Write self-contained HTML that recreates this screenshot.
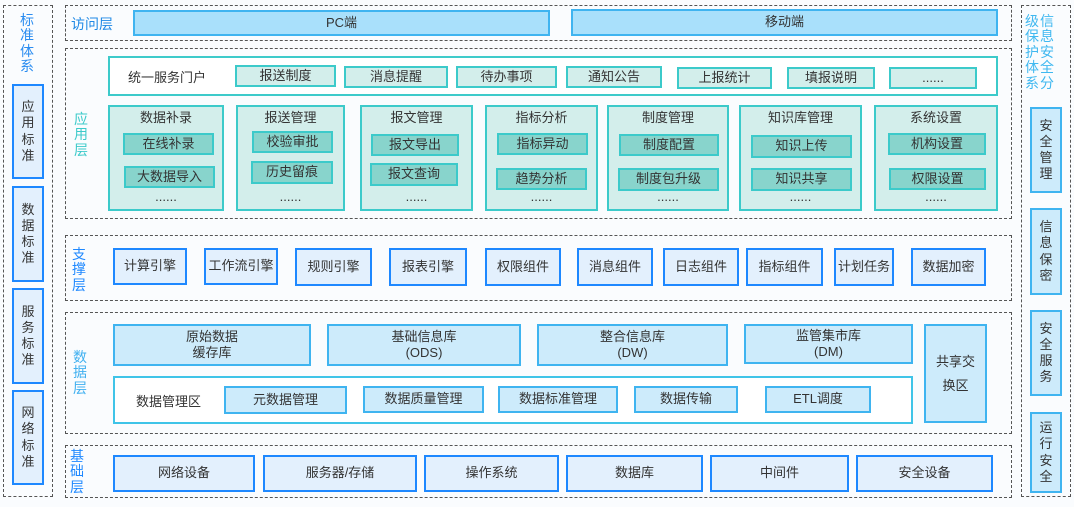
<!DOCTYPE html>
<html><head><meta charset="utf-8"><style>
*{margin:0;padding:0;box-sizing:border-box}
body{width:1074px;height:507px;position:relative;overflow:hidden;background:#fafcfe;font-family:"Liberation Sans","Noto Sans CJK SC",sans-serif;color:#333;font-size:13px}
div{position:absolute}
.d{border:1px dashed #555}
.b{display:flex;align-items:center;justify-content:center;text-align:center;line-height:1.25}
.a{background:#a9e0fb;border:2px solid #3fb4f0}
.m{background:#d3eeeb;border:2px solid #3ccaca}
.i{background:#88d4cc;border:2px solid #3ccaca}
.s{background:#e3f0fd;border:2px solid #1e88ff}
.t{background:#cdebfb;border:2px solid #3fb4f0}
.w{background:#fff;border:2px solid #3fc4e8}
.v{writing-mode:vertical-rl;text-orientation:upright;letter-spacing:1px}
.lab{font-size:14px;line-height:1.1}
</style></head><body>
<!-- left panel -->
<div class="d" style="left:3px;top:5px;width:50px;height:492px"></div>
<div class="lab" style="left:20px;top:13px;width:16px;color:#2a8cf0;font-size:14px">标准体系</div>
<div class="b s" style="left:12px;top:84px;width:32px;height:95px"><span style="width:14px">应用标准</span></div>
<div class="b s" style="left:12px;top:186px;width:32px;height:96px"><span style="width:14px">数据标准</span></div>
<div class="b s" style="left:12px;top:288px;width:32px;height:96px"><span style="width:14px">服务标准</span></div>
<div class="b s" style="left:12px;top:390px;width:32px;height:95px"><span style="width:14px">网络标准</span></div>

<!-- access -->
<div class="d" style="left:65px;top:5px;width:947px;height:36px"></div>
<div style="left:71px;top:14px;color:#1e88e5;font-size:14px">访问层</div>
<div class="b a" style="left:133px;top:10px;width:417px;height:26px">PC端</div>
<div class="b a" style="left:571px;top:9px;width:427px;height:27px">移动端</div>

<!-- app -->
<div class="d" style="left:65px;top:48px;width:947px;height:171px"></div>
<div class="lab" style="left:74px;top:112px;width:14px;color:#3ccaca">应用层</div>
<div class="w" style="left:108px;top:56px;width:890px;height:40px;border-color:#3ccaca"></div>
<div style="left:128px;top:67px;font-size:13px">统一服务门户</div>
<div class="b m" style="left:235px;top:65px;width:101px;height:22px">报送制度</div>
<div class="b m" style="left:344px;top:66px;width:104px;height:22px">消息提醒</div>
<div class="b m" style="left:456px;top:66px;width:101px;height:22px">待办事项</div>
<div class="b m" style="left:566px;top:66px;width:96px;height:22px">通知公告</div>
<div class="b m" style="left:677px;top:67px;width:95px;height:22px">上报统计</div>
<div class="b m" style="left:787px;top:67px;width:88px;height:22px">填报说明</div>
<div class="b m" style="left:889px;top:67px;width:88px;height:22px">......</div>

<div class="m" style="left:108px;top:105px;width:116px;height:106px"></div>
<div class="m" style="left:236px;top:105px;width:109px;height:106px"></div>
<div class="m" style="left:360px;top:105px;width:113px;height:106px"></div>
<div class="m" style="left:485px;top:105px;width:113px;height:106px"></div>
<div class="m" style="left:607px;top:105px;width:122px;height:106px"></div>
<div class="m" style="left:739px;top:105px;width:123px;height:106px"></div>
<div class="m" style="left:874px;top:105px;width:124px;height:106px"></div>

<div class="b" style="left:108px;top:109px;width:116px;height:18px">数据补录</div>
<div class="b" style="left:236px;top:109px;width:109px;height:18px">报送管理</div>
<div class="b" style="left:360px;top:109px;width:113px;height:18px">报文管理</div>
<div class="b" style="left:485px;top:109px;width:113px;height:18px">指标分析</div>
<div class="b" style="left:607px;top:109px;width:122px;height:18px">制度管理</div>
<div class="b" style="left:739px;top:109px;width:123px;height:18px">知识库管理</div>
<div class="b" style="left:874px;top:109px;width:124px;height:18px">系统设置</div>

<div class="b i" style="left:123px;top:133px;width:91px;height:22px">在线补录</div>
<div class="b i" style="left:124px;top:166px;width:91px;height:22px">大数据导入</div>
<div class="b i" style="left:252px;top:131px;width:81px;height:22px">校验审批</div>
<div class="b i" style="left:251px;top:161px;width:82px;height:23px">历史留痕</div>
<div class="b i" style="left:371px;top:134px;width:88px;height:22px">报文导出</div>
<div class="b i" style="left:370px;top:163px;width:88px;height:23px">报文查询</div>
<div class="b i" style="left:497px;top:133px;width:91px;height:22px">指标异动</div>
<div class="b i" style="left:496px;top:168px;width:91px;height:22px">趋势分析</div>
<div class="b i" style="left:619px;top:134px;width:100px;height:22px">制度配置</div>
<div class="b i" style="left:618px;top:168px;width:101px;height:23px">制度包升级</div>
<div class="b i" style="left:751px;top:135px;width:101px;height:23px">知识上传</div>
<div class="b i" style="left:751px;top:168px;width:101px;height:23px">知识共享</div>
<div class="b i" style="left:888px;top:133px;width:98px;height:22px">机构设置</div>
<div class="b i" style="left:889px;top:168px;width:97px;height:22px">权限设置</div>
<div class="b" style="left:108px;top:190px;width:116px;height:14px">......</div>
<div class="b" style="left:236px;top:190px;width:109px;height:14px">......</div>
<div class="b" style="left:360px;top:190px;width:113px;height:14px">......</div>
<div class="b" style="left:485px;top:190px;width:113px;height:14px">......</div>
<div class="b" style="left:607px;top:190px;width:122px;height:14px">......</div>
<div class="b" style="left:739px;top:190px;width:123px;height:14px">......</div>
<div class="b" style="left:874px;top:190px;width:124px;height:14px">......</div>

<!-- support -->
<div class="d" style="left:65px;top:235px;width:947px;height:66px"></div>
<div class="lab" style="left:72px;top:247px;width:14px;color:#1e88ff">支撑层</div>
<div class="b s" style="left:113px;top:248px;width:74px;height:37px">计算引擎</div>
<div class="b s" style="left:204px;top:248px;width:74px;height:37px">工作流引擎</div>
<div class="b s" style="left:295px;top:248px;width:77px;height:38px">规则引擎</div>
<div class="b s" style="left:389px;top:248px;width:78px;height:38px">报表引擎</div>
<div class="b s" style="left:485px;top:248px;width:76px;height:38px">权限组件</div>
<div class="b s" style="left:577px;top:248px;width:76px;height:38px">消息组件</div>
<div class="b s" style="left:663px;top:248px;width:76px;height:38px">日志组件</div>
<div class="b s" style="left:746px;top:248px;width:77px;height:38px">指标组件</div>
<div class="b s" style="left:834px;top:248px;width:60px;height:38px">计划任务</div>
<div class="b s" style="left:911px;top:248px;width:75px;height:38px">数据加密</div>

<!-- data -->
<div class="d" style="left:65px;top:312px;width:947px;height:122px"></div>
<div class="lab" style="left:73px;top:350px;width:14px;color:#40b0f0">数据层</div>
<div class="b t" style="left:113px;top:324px;width:198px;height:42px">原始数据<br>缓存库</div>
<div class="b t" style="left:327px;top:324px;width:194px;height:42px">基础信息库<br>(ODS)</div>
<div class="b t" style="left:537px;top:324px;width:191px;height:42px">整合信息库<br>(DW)</div>
<div class="b t" style="left:744px;top:324px;width:169px;height:40px">监管集市库<br>(DM)</div>
<div class="b t" style="left:924px;top:324px;width:63px;height:99px;line-height:1.8">共享交<br>换区</div>
<div class="w" style="left:113px;top:376px;width:800px;height:48px"></div>
<div style="left:136px;top:391px">数据管理区</div>
<div class="b t" style="left:224px;top:386px;width:123px;height:28px">元数据管理</div>
<div class="b t" style="left:363px;top:386px;width:121px;height:27px">数据质量管理</div>
<div class="b t" style="left:498px;top:386px;width:120px;height:27px">数据标准管理</div>
<div class="b t" style="left:634px;top:386px;width:104px;height:27px">数据传输</div>
<div class="b t" style="left:765px;top:386px;width:106px;height:27px">ETL调度</div>

<!-- base -->
<div class="d" style="left:65px;top:445px;width:947px;height:53px"></div>
<div class="lab" style="left:70px;top:449px;width:14px;color:#1e88ff">基础层</div>
<div class="b s" style="left:113px;top:455px;width:142px;height:37px">网络设备</div>
<div class="b s" style="left:263px;top:455px;width:154px;height:37px">服务器/存储</div>
<div class="b s" style="left:424px;top:455px;width:135px;height:37px">操作系统</div>
<div class="b s" style="left:566px;top:455px;width:137px;height:37px">数据库</div>
<div class="b s" style="left:710px;top:455px;width:139px;height:37px">中间件</div>
<div class="b s" style="left:856px;top:455px;width:137px;height:37px">安全设备</div>

<!-- right panel -->
<div class="d" style="left:1021px;top:5px;width:50px;height:492px"></div>
<div class="lab" style="left:1040px;top:14px;width:14px;color:#40b8f0">信息安全分</div>
<div class="lab" style="left:1025px;top:14px;width:14px;color:#40b8f0">级保护体系</div>
<div class="b t" style="left:1030px;top:107px;width:32px;height:86px"><span style="width:14px">安全管理</span></div>
<div class="b t" style="left:1030px;top:208px;width:32px;height:87px"><span style="width:14px">信息保密</span></div>
<div class="b t" style="left:1030px;top:310px;width:32px;height:86px"><span style="width:14px">安全服务</span></div>
<div class="b t" style="left:1030px;top:412px;width:32px;height:81px"><span style="width:14px">运行安全</span></div>
</body></html>
